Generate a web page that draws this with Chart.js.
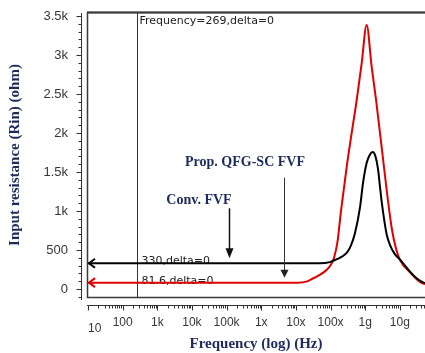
<!DOCTYPE html>
<html><head><meta charset="utf-8">
<script src="https://cdn.jsdelivr.net/npm/chart.js@4"></script>
<style>html,body{margin:0;padding:0;background:#fff;}canvas{display:block;}</style>
</head><body>
<canvas id="c" width="425" height="353"></canvas>
<script>
// ---- data ----
const convFreq = [10, 1e7, 4.97e7, 9.55e7, 1.34e8, 2.0e8, 2.92e8, 3.89e8, 5.08e8, 7.1e8, 8.65e8, 1.10e9, 1.35e9, 1.65e9, 1.98e9, 2.34e9, 2.69e9, 2.99e9, 3.55e9, 4.17e9, 5.25e9, 7.08e9, 1e10, 1.41e10, 2e10, 2.82e10, 3.98e10, 5.32e10];
const convRin  = [330, 330, 330, 345, 372, 410, 462, 560, 718, 1051, 1359, 1615, 1718, 1756, 1700, 1540, 1300, 1120, 880, 700, 560, 450, 380, 300, 220, 150, 100, 75];
const propFreq = [10, 1.15e7, 2e7, 3.1e7, 5e7, 6.3e7, 7.9e7, 1e8, 1.26e8, 1.58e8, 2e8, 2.92e8, 4.07e8, 5.69e8, 7.94e8, 1.10e9, 1.54e9, 2.05e9, 2.67e9, 3.49e9, 4.55e9, 5.93e9, 7.74e9, 1.01e10, 1.96e10, 3.82e10, 5.32e10];
const propRin  = [81.6, 81.6, 95, 135, 185, 213, 250, 305, 400, 600, 1000, 1564, 2000, 2423, 2900, 3385, 2846, 2430, 2000, 1560, 1130, 760, 520, 372, 215, 90, 60];

const xTickValues = [10, 100, 1e3, 1e4, 1e5, 1e6, 1e7, 1e8, 1e9, 1e10];
const xTickLabels = ['    10', '100', '1k', '10k', '100k', '1x', '10x', '100x', '1g', '10g'];
const yTickValues = [0, 500, 1000, 1500, 2000, 2500, 3000, 3500];
const yTickLabels = ['0', '500', '1k', '1.5k', '2k', '2.5k', '3k', '3.5k'];

const cursorFreq = 269;
const cursorText = 'Frequency=269,delta=0';
const convMarkerText = '330,delta=0';
const propMarkerText = '81.6,delta=0';
const convName = 'Conv. FVF';
const propName = 'Prop. QFG-SC FVF';
const convArrowFreq = 1.17e5;
const propArrowFreq = 4.6e6;
const xTitle = 'Frequency (log) (Hz)';
const yTitle = 'Input resistance (Rin) (ohm)';

const xMin = Math.pow(10, 0.97114), xMax = 5.32e10;
const yMin = -115, yMax = 3551;

const navy = '#1c2a5e';
const tickColor = '#363636';

const decor = {
  id: 'decor',
  beforeDatasetsDraw(chart) {
    const {ctx, chartArea: a, scales: {x, y}} = chart;
    ctx.save();
    const cx = Math.round(x.getPixelForValue(cursorFreq)) - 0.5;
    ctx.strokeStyle = '#333'; ctx.lineWidth = 1;
    ctx.beginPath(); ctx.moveTo(cx, a.top); ctx.lineTo(cx, a.bottom); ctx.stroke();
    ctx.font = '11px "DejaVu Sans"'; ctx.fillStyle = '#222';
    ctx.textBaseline = 'middle'; ctx.textAlign = 'left';
    ctx.fillText(cursorText, cx + 2, a.top + 9);
    ctx.fillText(convMarkerText, cx + 4, y.getPixelForValue(convRin[0]) - 2);
    ctx.fillText(propMarkerText, cx + 4, y.getPixelForValue(propRin[0]) - 2);
    ctx.restore();
  },
  afterDatasetsDraw(chart) {
    const {ctx, chartArea: a, scales: {x, y}} = chart;
    ctx.save();
    // arrowheads at left end of each trace
    [[convFreq[0], convRin[0], '#000'], [propFreq[0], propRin[0], '#e00000']].forEach(([f, v, c]) => {
      const px = x.getPixelForValue(f), py = y.getPixelForValue(v);
      ctx.strokeStyle = c; ctx.lineWidth = 2;
      ctx.beginPath();
      ctx.moveTo(px + 7, py - 4.5); ctx.lineTo(px + 1, py); ctx.lineTo(px + 7, py + 4.5);
      ctx.stroke();
    });
    // box
    ctx.strokeStyle = '#3a3a3a'; ctx.lineWidth = 1.5;
    ctx.strokeRect(a.left + 0.5, a.top + 0.5, a.right - a.left + 2, a.bottom - a.top - 1);
    ctx.lineWidth = 2;
    ctx.beginPath(); ctx.moveTo(a.left, a.top + 0.5); ctx.lineTo(a.right, a.top + 0.5); ctx.stroke();
    // annotation labels with arrows
    ctx.font = 'bold 14px "Liberation Serif"'; ctx.fillStyle = navy;
    ctx.textAlign = 'center'; ctx.textBaseline = 'middle';
    // Conv
    let ax = Math.round(x.getPixelForValue(convArrowFreq)) + 0.5;
    let tip = y.getPixelForValue(convRin[0]) - 5;
    ctx.fillText(convName, ax - 30.5, tip - 58);
    ctx.strokeStyle = '#111'; ctx.lineWidth = 1.5;
    ctx.beginPath(); ctx.moveTo(ax, tip - 50); ctx.lineTo(ax, tip - 8); ctx.stroke();
    ctx.fillStyle = '#111';
    ctx.beginPath(); ctx.moveTo(ax - 4, tip - 10); ctx.lineTo(ax + 4, tip - 10); ctx.lineTo(ax, tip); ctx.closePath(); ctx.fill();
    // Prop
    ctx.fillStyle = navy;
    ax = Math.round(x.getPixelForValue(propArrowFreq)) + 0.5;
    tip = y.getPixelForValue(propRin[0]) - 5;
    ctx.fillText(propName, ax - 39.5, tip - 115);
    ctx.strokeStyle = '#333'; ctx.lineWidth = 1;
    ctx.beginPath(); ctx.moveTo(ax, tip - 100); ctx.lineTo(ax, tip - 7); ctx.stroke();
    ctx.fillStyle = '#222';
    ctx.beginPath(); ctx.moveTo(ax - 4, tip - 8); ctx.lineTo(ax + 4, tip - 8); ctx.lineTo(ax, tip); ctx.closePath(); ctx.fill();
    ctx.restore();
  },
  afterDraw(chart) {
    const {ctx, chartArea: a, scales: {x, y}} = chart;
    ctx.save();
    ctx.strokeStyle = '#333'; ctx.lineWidth = 1;
    // y axis
    const yx = a.left - 5.5;
    ctx.beginPath(); ctx.moveTo(yx, a.top + 1); ctx.lineTo(yx, a.bottom + 2); ctx.stroke();
    for (let v = -100; v <= 3500; v += 100) {
      const py = Math.round(y.getPixelForValue(v)) + 0.5;
      const len = v % 500 === 0 ? 5 : 3;
      ctx.beginPath(); ctx.moveTo(yx - len, py); ctx.lineTo(yx, py); ctx.stroke();
    }
    // x axis
    const xy = a.bottom + 7.5;
    ctx.beginPath(); ctx.moveTo(a.left, xy); ctx.lineTo(a.right, xy); ctx.stroke();
    for (let d = 1; d <= 10; d++) {
      for (let m = 1; m <= 9; m++) {
        const f = m * Math.pow(10, d);
        if (f > xMax) break;
        const px = Math.round(x.getPixelForValue(f)) + 0.5;
        const len = m === 1 ? 5 : 3;
        ctx.beginPath(); ctx.moveTo(px, xy); ctx.lineTo(px, xy + len); ctx.stroke();
      }
    }
    ctx.restore();
  }
};

new Chart(document.getElementById('c'), {
  type: 'line',
  data: {
    datasets: [
      { label: convName, data: convFreq.map((f, i) => ({x: f, y: convRin[i]})),
        borderColor: '#000', borderWidth: 2, pointRadius: 0, fill: false, cubicInterpolationMode: 'monotone' },
      { label: propName, data: propFreq.map((f, i) => ({x: f, y: propRin[i]})),
        borderColor: '#e00000', borderWidth: 2, pointRadius: 0, fill: false, cubicInterpolationMode: 'monotone' }
    ]
  },
  options: {
    responsive: false, animation: false, devicePixelRatio: 1,
    layout: { padding: { top: 12, right: 0, bottom: 0, left: 0 } },
    plugins: { legend: { display: false }, tooltip: { enabled: false } },
    scales: {
      x: {
        type: 'logarithmic', min: xMin, max: xMax,
        afterBuildTicks: s => { s.ticks = xTickValues.map(v => ({value: v, major: false})); },
        afterFit: s => { s.height = 55; },
        border: { display: false },
        grid: { display: true, drawOnChartArea: false, drawTicks: true, tickLength: 17, color: 'rgba(0,0,0,0)' },
        ticks: {
          autoSkip: false, maxRotation: 0, minRotation: 0, padding: 0, color: tickColor,
          callback: (v, i) => xTickLabels[xTickValues.indexOf(v)] ?? '',
          font: c => ({ family: '"Liberation Sans", Arial, sans-serif', size: 12, lineHeight: c.index === 0 ? 2.2 : 1.2 })
        },
        title: { display: true, text: xTitle, color: navy, padding: { top: 0, bottom: 0 },
          font: { family: '"Liberation Serif", serif', weight: 'bold', size: 15 } }
      },
      y: {
        type: 'linear', min: yMin, max: yMax,
        afterBuildTicks: s => { s.ticks = yTickValues.map(v => ({value: v})); },
        afterFit: s => { s.width = 87; },
        border: { display: false },
        grid: { display: true, drawOnChartArea: false, drawTicks: true, tickLength: 19, color: 'rgba(0,0,0,0)' },
        ticks: {
          autoSkip: false, padding: 0, color: tickColor,
          callback: (v) => yTickLabels[yTickValues.indexOf(v)] ?? '',
          font: { family: '"Liberation Sans", Arial, sans-serif', size: 13 }
        },
        title: { display: true, text: yTitle, color: navy, padding: { top: 6, bottom: 0 },
          font: { family: '"Liberation Serif", serif', weight: 'bold', size: 15 } }
      }
    }
  },
  plugins: [decor]
});
</script>
</body></html>
